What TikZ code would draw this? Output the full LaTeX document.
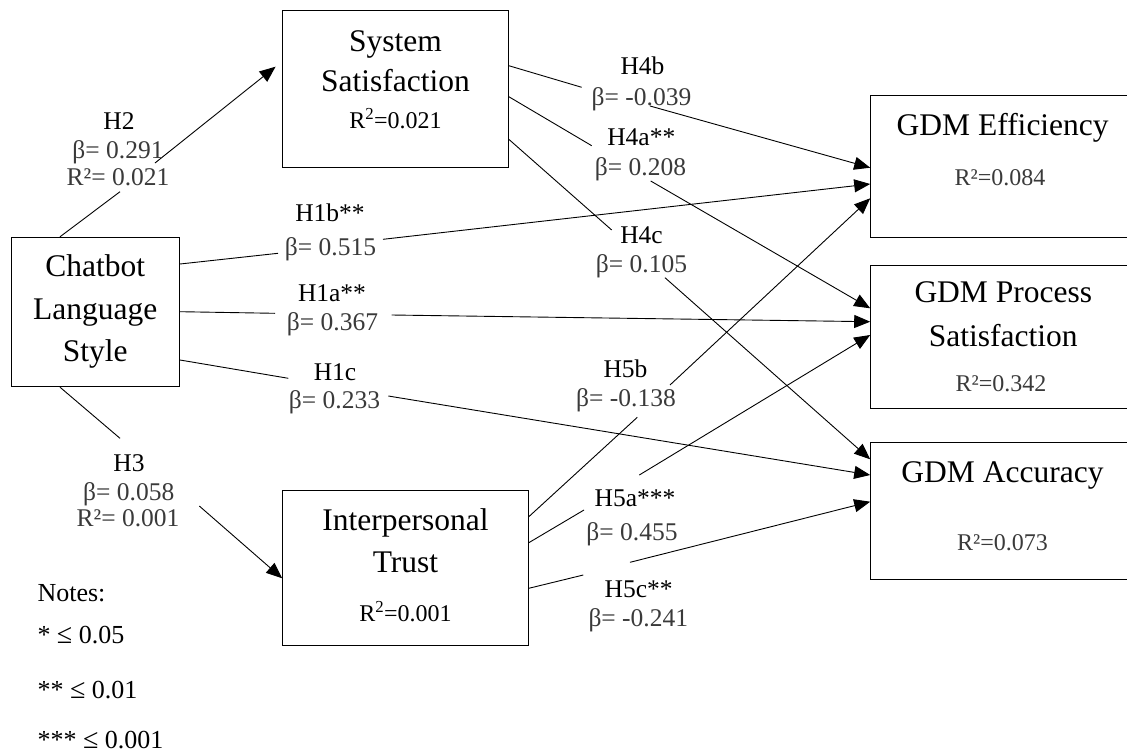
\documentclass[tikz,border=0pt]{standalone}
\usepackage{fontspec}
\setmainfont{Liberation Serif}
\usetikzlibrary{arrows.meta}
\definecolor{lblgray}{HTML}{3A3A3A}
\newcommand{\myle}{{\fontsize{28}{28}\selectfont ≤}}
\tikzset{
  box/.style={draw=black, line width=1pt, rectangle, inner sep=0pt},
  ttl/.style={anchor=base, inner sep=0pt, font=\fontsize{31.5}{36}\selectfont},
  rsq/.style={anchor=base, inner sep=0pt, font=\fontsize{24}{28}\selectfont},
  rsqg/.style={rsq, text=lblgray},
  hlab/.style={anchor=base, inner sep=0pt, font=\fontsize{25.5}{30}\selectfont},
  blab/.style={hlab, text=lblgray},
  note/.style={anchor=base west, inner sep=0pt, font=\fontsize{26}{30}\selectfont},
  conn/.style={line width=0.9pt, -{Triangle[length=16pt,width=13pt]}},
}
\begin{document}
\begin{tikzpicture}[x=1pt,y=-1pt]
\useasboundingbox (0,0) rectangle (1127,755);

% boxes
\node[box, minimum width=225.6pt, minimum height=156.6pt] (sys) at (395.5,89) {};
\node[box, minimum width=168.5pt, minimum height=149.4pt] (chat) at (95.25,312) {};
\node[box, minimum width=245.6pt, minimum height=155.7pt] (trust) at (405.5,567.85) {};
\node[box, minimum width=264.3pt, minimum height=142pt] (eff) at (1002.85,166.7) {};
\node[box, minimum width=264.3pt, minimum height=142.6pt] (proc) at (1002.85,337) {};
\node[box, minimum width=264.3pt, minimum height=136.6pt] (acc) at (1002.85,511) {};

% box texts
\node[ttl] (sysA) at (395.5,51.7) {System};
\node[ttl] (sysB) at (395.5,91.7) {Satisfaction};
\node[rsq] (sysR) at (395.5,128.3) {R\textsuperscript{2}=0.021};
\node[ttl] (chatA) at (95.25,276.7) {Chatbot};
\node[ttl] (chatB) at (95.25,319.3) {Language};
\node[ttl] (chatC) at (95.25,361.7) {Style};
\node[ttl] (trustA) at (405.5,530) {Interpersonal};
\node[ttl] (trustB) at (405.5,572.7) {Trust};
\node[rsq] (trustR) at (405.5,621.7) {R\textsuperscript{2}=0.001};
\node[ttl] (effA) at (1002.7,135) {GDM Efficiency};
\node[rsqg] (effR) at (1000,185) {R²=0.084};
\node[ttl] (procA) at (1003.3,302.7) {GDM Process};
\node[ttl] (procB) at (1003.3,346.7) {Satisfaction};
\node[rsqg] (procR) at (1001,391.7) {R²=0.342};
\node[ttl] (accA) at (1002.5,482.7) {GDM Accuracy};
\node[rsqg] (accR) at (1002.5,550) {R²=0.073};

% gap coordinates
\coordinate (h2a) at (120,191.7);  \coordinate (h2b) at (155,163);
\coordinate (h3a) at (120,438.3);  \coordinate (h3b) at (199.3,506);
\coordinate (h1ba) at (278,253.3); \coordinate (h1bb) at (383,239.3);
\coordinate (h1aa) at (275,313.3); \coordinate (h1ab) at (391.7,315);
\coordinate (h1ca) at (288.3,378.3); \coordinate (h1cb) at (388.3,396);
\coordinate (h4ba) at (581.7,87.3); \coordinate (h4bb) at (650,106);
\coordinate (h4aa) at (591.7,145.7); \coordinate (h4ab) at (650.7,181);
\coordinate (h4ca) at (611.7,230); \coordinate (h4cb) at (665,277.7);
\coordinate (h5ba) at (637.3,417.3); \coordinate (h5bb) at (670,385);
\coordinate (h5aa) at (584,510); \coordinate (h5ab) at (639.3,475);
\coordinate (h5ca) at (583.3,575); \coordinate (h5cb) at (630,562.3);

% connectors
\draw[conn, shorten >=8.5pt] (chat.north -| 60,0) -- (h2a) (h2b) -- (sys.west |- 0,61.4);
\draw[conn] (chat.south -| 60,0) -- (h3a) (h3b) -- (trust.west |- 0,578.3);
\draw[conn] (chat.east |- 0,264) -- (h1ba) (h1bb) -- (eff.west |- 0,184);
\draw[conn] (chat.east |- 0,311.7) -- (h1aa) (h1ab) -- (proc.west |- 0,321.7);
\draw[conn] (chat.east |- 0,360) -- (h1ca) (h1cb) -- (acc.west |- 0,475);
\draw[conn] (sys.east |- 0,65.7) -- (h4ba) (h4bb) -- (eff.west |- 0,167.7);
\draw[conn] (sys.east |- 0,96.7) -- (h4aa) (h4ab) -- (proc.west |- 0,308.3);
\draw[conn] (sys.east |- 0,139.3) -- (h4ca) (h4cb) -- (acc.west |- 0,459.3);
\draw[conn] (trust.east |- 0,516.7) -- (h5ba) (h5bb) -- (eff.west |- 0,198.3);
\draw[conn] (trust.east |- 0,542.7) -- (h5aa) (h5ab) -- (proc.west |- 0,335);
\draw[conn] (trust.east |- 0,588.3) -- (h5ca) (h5cb) -- (acc.west |- 0,501.7);

% labels
\node[hlab] (l2a) at (119,129) {H2};
\node[blab] (l2b) at (118,158) {β= 0.291};
\node[blab] (l2c) at (118,185) {R²= 0.021};
\node[hlab] (l3a) at (129,471.7) {H3};
\node[blab] (l3b) at (128.7,500) {β= 0.058};
\node[blab] (l3c) at (128,526.7) {R²= 0.001};
\node[hlab] (l1ba) at (330,221.7) {H1b**};
\node[blab] (l1bb) at (330.5,255) {β= 0.515};
\node[hlab] (l1aa) at (332,301.7) {H1a**};
\node[blab] (l1ab) at (332.5,330) {β= 0.367};
\node[hlab] (l1ca) at (335,380) {H1c};
\node[blab] (l1cb) at (334.5,408.3) {β= 0.233};
\node[hlab] (l4ba) at (642.5,74) {H4b};
\node[blab] (l4bb) at (641.5,105) {β= -0.039};
\node[hlab] (l4aa) at (641.3,145.7) {H4a**};
\node[blab] (l4ab) at (640.5,175.7) {β= 0.208};
\node[hlab] (l4ca) at (641.5,243) {H4c};
\node[blab] (l4cb) at (641.5,272.7) {β= 0.105};
\node[hlab] (l5ba) at (625.5,377.3) {H5b};
\node[blab] (l5bb) at (626,406.7) {β= -0.138};
\node[hlab] (l5aa) at (635,506.7) {H5a***};
\node[blab] (l5ab) at (632,540) {β= 0.455};
\node[hlab] (l5ca) at (638.7,597.3) {H5c**};
\node[blab] (l5cb) at (638.3,626.7) {β= -0.241};

% notes
\node[note] (n0) at (37.3,601.7) {Notes:};
\node[note] (n1) at (37.3,643.3) {* \myle{} 0.05};
\node[note] (n2) at (37.3,698.3) {** \myle{} 0.01};
\node[note] (n3) at (37.3,748.5) {*** \myle{} 0.001};
\end{tikzpicture}
\end{document}
